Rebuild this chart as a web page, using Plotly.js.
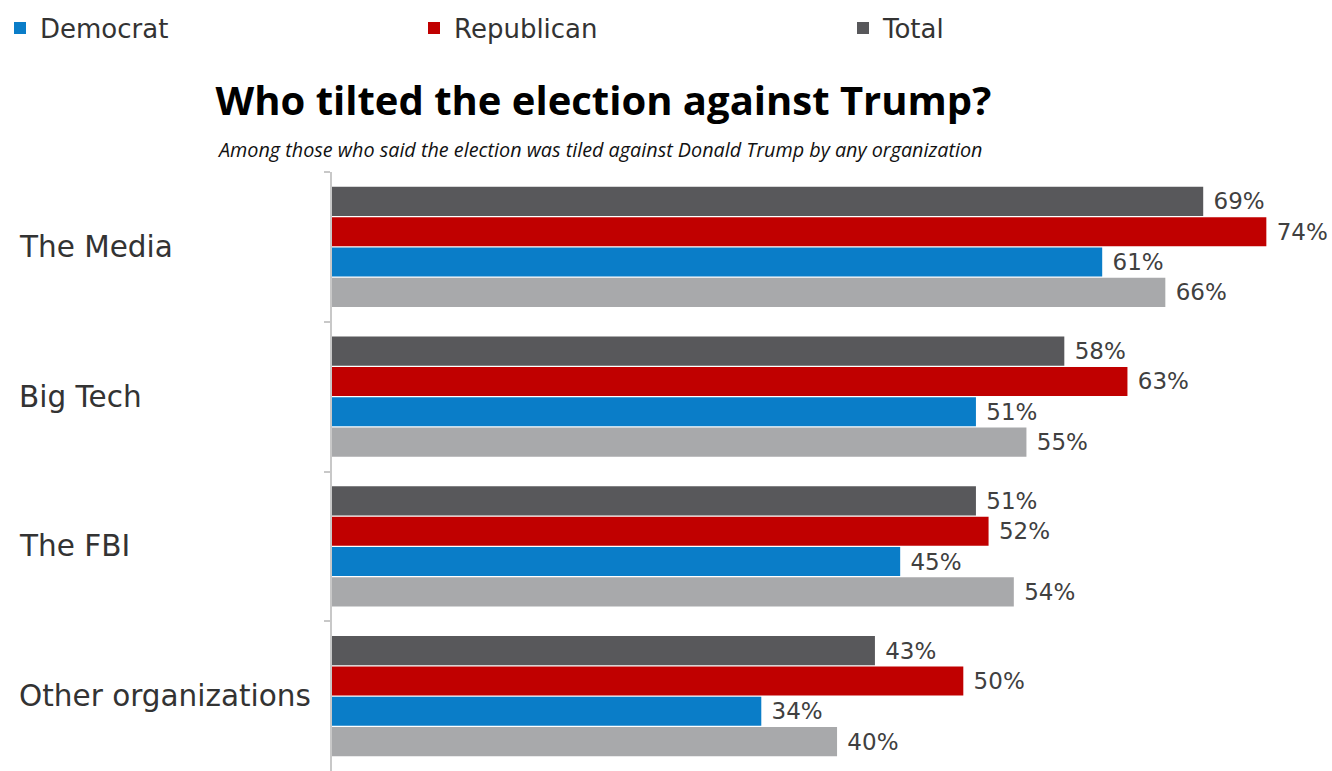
<!DOCTYPE html>
<html>
<head>
<meta charset="utf-8">
<script src="https://cdn.plot.ly/plotly-3.0.1.min.js"></script>
<style>html,body{margin:0;padding:0;background:#fff;}#chart{width:1332px;height:771px;}</style>
</head>
<body>
<div id="chart"></div>
<script>
// ---- data ----
const categories = ["The Media", "Big Tech", "The FBI", "Other organizations"];
const totalValues = [69, 58, 51, 43];
const republicanValues = [74, 63, 52, 50];
const democratValues = [61, 51, 45, 34];
const otherGroupValues = [66, 55, 54, 40];
const chartTitle = "Who tilted the election against Trump?";
const chartSubtitle = "Among those who said the election was tiled against Donald Trump by any organization";

const labelFont = {family: "DejaVu Sans", size: 23, color: "#404040"};

function barTrace(name, values, color, legendId, show) {
  return {
    type: "bar", orientation: "h", name: name,
    x: values, y: categories,
    marker: {color: color, line: {width: 0}},
    text: values.map(v => " " + v + "%"),
    textposition: "outside", cliponaxis: false, constraintext: "none",
    textfont: labelFont,
    legend: legendId, showlegend: show, hoverinfo: "x+name"
  };
}

const data = [
  barTrace("Total", totalValues, "#58585b", "legend3", true),
  barTrace("Republican", republicanValues, "#c00000", "legend2", true),
  barTrace("Democrat", democratValues, "#0a7dc8", "legend", true),
  barTrace("Independent", otherGroupValues, "#a8a9ab", "legend", false)
];

const annotations = categories.map(c => ({
  text: c, xref: "paper", yref: "y", x: -0.315, y: c,
  xanchor: "left", yanchor: "middle", showarrow: false,
  font: {family: "DejaVu Sans", size: 29.5, color: "#333"}
}));
annotations.push({
  text: "<i>" + chartSubtitle + "</i>", xref: "paper", yref: "paper",
  x: 0.268, y: 1.037, xanchor: "center", yanchor: "middle", showarrow: false,
  font: {family: "Open Sans", size: 19.8, color: "#111"}
});

function legendAt(px) {
  return {
    orientation: "h", xref: "container", yref: "container",
    x: px / 1332, y: 1 - 28 / 771, xanchor: "left", yanchor: "middle",
    font: {family: "DejaVu Sans", size: 26, color: "#333"},
    bgcolor: "rgba(0,0,0,0)",
    itemclick: false, itemdoubleclick: false
  };
}

const layout = {
  width: 1332, height: 771,
  margin: {l: 332, r: 0, t: 172, b: 0, pad: 0},
  paper_bgcolor: "#fff", plot_bgcolor: "#fff",
  barmode: "group", bargap: 0.19, bargroupgap: 0.04,
  title: {
    text: "<b>" + chartTitle + "</b>",
    font: {family: "Open Sans", size: 40, color: "#000"},
    x: 0.453, xref: "container", xanchor: "center",
    y: 1 - 101 / 771, yref: "container", yanchor: "middle"
  },
  xaxis: {range: [0, 79.2], showgrid: false, zeroline: false, showticklabels: false, showline: false, fixedrange: true},
  yaxis: {
    autorange: "reversed", type: "category",
    showticklabels: false, showgrid: false, zeroline: false,
    showline: true, linecolor: "#c8c8c8", linewidth: 2,
    ticks: "outside", tickson: "boundaries", ticklen: 6, tickcolor: "#c8c8c8", tickwidth: 2
  },
  legend: legendAt(0),
  legend2: legendAt(414),
  legend3: legendAt(843),
  annotations: annotations,
  showlegend: true
};

Plotly.newPlot("chart", data, layout, {displayModeBar: false, staticPlot: true});
</script>
</body>
</html>
